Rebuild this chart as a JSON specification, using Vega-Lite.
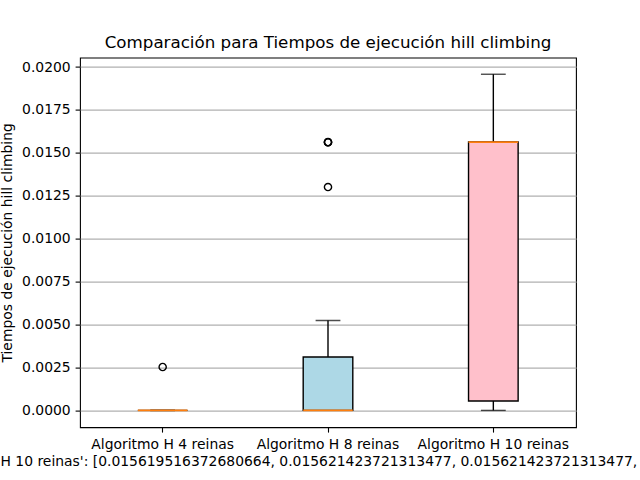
{
  "$schema": "https://vega.github.io/schema/vega-lite/v6.json",
  "autosize": {"type": "none"},
  "width": 496,
  "height": 369.6,
  "padding": {"left": 80, "top": 57.6, "right": 64, "bottom": 52.8},
  "background": "white",
  "config": {
    "font": "DejaVu Sans",
    "view": {"stroke": "black", "strokeWidth": 1.1},
    "axis": {"domain": false, "labelColor": "black", "tickColor": "black", "tickSize": 4.9, "tickWidth": 1.1, "labelFontSize": 13.9, "labelFont": "DejaVu Sans", "titleFont": "DejaVu Sans", "titleFontSize": 13.9, "titleFontWeight": "normal", "titleColor": "black", "labelPadding": 4.9}
  },
  "title": {"text": "Comparación para Tiempos de ejecución hill climbing", "fontSize": 16.7, "fontWeight": "normal", "font": "DejaVu Sans", "color": "black", "anchor": "middle", "offset": 6},
  "datasets": {
    "boxes": [
      {"algoritmo": "Algoritmo H 4 reinas", "lower": 0, "q1": 0, "median": 0, "q3": 0, "upper": 0},
      {"algoritmo": "Algoritmo H 8 reinas", "lower": 0, "q1": 0, "median": 0, "q3": 0.00311, "upper": 0.00524},
      {"algoritmo": "Algoritmo H 10 reinas", "lower": 0, "q1": 0.000547, "median": 0.01563, "q3": 0.01563, "upper": 0.01958}
    ],
    "fliers": [
      {"algoritmo": "Algoritmo H 4 reinas", "tiempo": 0.002528},
      {"algoritmo": "Algoritmo H 8 reinas", "tiempo": 0.01301},
      {"algoritmo": "Algoritmo H 8 reinas", "tiempo": 0.015619516372680664},
      {"algoritmo": "Algoritmo H 8 reinas", "tiempo": 0.015621423721313477},
      {"algoritmo": "Algoritmo H 8 reinas", "tiempo": 0.01563}
    ]
  },
  "encoding": {
    "x": {
      "field": "algoritmo", "type": "nominal",
      "sort": ["Algoritmo H 4 reinas", "Algoritmo H 8 reinas", "Algoritmo H 10 reinas"],
      "scale": {"type": "band", "paddingInner": 0, "paddingOuter": 0},
      "axis": {"labelAngle": 0, "grid": false, "title": "H 10 reinas': [0.015619516372680664, 0.015621423721313477, 0.015621423721313477, 0.015621423721313477, 0.015621423721313477]", "titleAlign": "left", "titleAnchor": "start", "titleX": -80, "titleY": 27, "titleBaseline": "top"}
    }
  },
  "layer": [
    {
      "data": {"name": "boxes"},
      "mark": {"type": "rule", "color": "black", "strokeWidth": 1.4},
      "encoding": {
        "y": {"field": "q3", "type": "quantitative", "scale": {"domain": [-0.000978, 0.02055], "nice": false, "zero": false}, "axis": {"format": ".4f", "values": [0, 0.0025, 0.005, 0.0075, 0.01, 0.0125, 0.015, 0.0175, 0.02], "grid": true, "gridColor": "#b0b0b0", "gridWidth": 1.1, "title": "Tiempos de ejecución hill climbing", "titlePadding": 7}},
        "y2": {"field": "upper"}
      }
    },
    {
      "data": {"name": "boxes"},
      "mark": {"type": "rule", "color": "black", "strokeWidth": 1.4},
      "encoding": {
        "y": {"field": "lower", "type": "quantitative"},
        "y2": {"field": "q1"}
      }
    },
    {
      "data": {"name": "boxes"},
      "mark": {"type": "tick", "color": "black", "size": 24.8, "thickness": 1.4, "orient": "horizontal"},
      "encoding": {"y": {"field": "upper", "type": "quantitative"}}
    },
    {
      "data": {"name": "boxes"},
      "mark": {"type": "tick", "color": "black", "size": 24.8, "thickness": 1.4, "orient": "horizontal"},
      "encoding": {"y": {"field": "lower", "type": "quantitative"}}
    },
    {
      "data": {"name": "boxes"},
      "mark": {"type": "bar", "width": {"band": 0.3}, "stroke": "black", "strokeWidth": 1.4},
      "encoding": {
        "y": {"field": "q1", "type": "quantitative"},
        "y2": {"field": "q3"},
        "color": {"field": "algoritmo", "type": "nominal", "scale": {"domain": ["Algoritmo H 4 reinas", "Algoritmo H 8 reinas", "Algoritmo H 10 reinas"], "range": ["lightgreen", "lightblue", "pink"]}, "legend": null}
      }
    },
    {
      "data": {"name": "boxes"},
      "mark": {"type": "tick", "color": "#ff7f0e", "size": 49.6, "thickness": 1.8, "orient": "horizontal", "opacity": 1},
      "encoding": {"y": {"field": "median", "type": "quantitative"}}
    },
    {
      "data": {"name": "fliers"},
      "mark": {"type": "point", "shape": "circle", "filled": false, "stroke": "black", "strokeWidth": 1.4, "size": 52, "opacity": 1},
      "encoding": {"y": {"field": "tiempo", "type": "quantitative"}}
    }
  ]
}
